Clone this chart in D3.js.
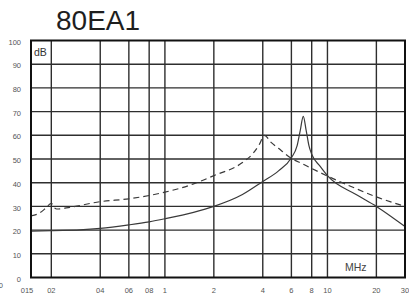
<!DOCTYPE html>
<html>
<head>
<meta charset="utf-8">
<script src="https://cdn.jsdelivr.net/npm/d3@7"></script>
<style>
  body { margin: 0; background: #fff; }
  svg { display: block; font-family: "Liberation Sans", Arial, sans-serif; }
</style>
</head>
<body>
<div id="chart"></div>
<script>
// frequency (MHz) and attenuation (dB)
var solidFreq = [0.15, 0.2, 0.3, 0.4, 0.6, 0.8, 1, 1.5, 2, 3, 4, 5, 6, 6.5, 6.8, 7.1, 7.4, 7.7, 8, 9, 10, 15, 20, 30];
var solidDb   = [19.5, 19.8, 20.1, 20.7, 22.2, 23.5, 24.8, 27.5, 30, 35, 40.5, 45, 50.5, 55.5, 62, 68, 62, 55.5, 52, 47, 43, 35, 30, 21.5];

var dashFreq = [0.15, 0.17, 0.185, 0.2, 0.208, 0.216, 0.26, 0.4, 0.6, 0.8, 1, 1.5, 2, 3, 3.5, 3.8, 4.1, 4.5, 5, 6, 7, 8, 10, 15, 20, 30];
var dashDb   = [26, 27.3, 29.3, 31.3, 29.6, 28.9, 29.6, 32, 33.2, 34.6, 36, 39.5, 43, 48.5, 52.5, 56, 60, 57, 54.5, 50.3, 48, 46, 42.8, 37.5, 34, 30];

var xTicks = [0.15, 0.2, 0.4, 0.6, 0.8, 1, 2, 4, 6, 8, 10, 20, 30];
var xTickLabels = ["015", "02", "04", "06", "08", "1", "2", "4", "6", "8", "10", "20", "30"];
var xGrid = [0.2, 0.4, 0.6, 0.8, 1, 2, 4, 6, 8, 10, 20];
var yTicks = [0, 10, 20, 30, 40, 50, 60, 70, 80, 90, 100];

var width = 409,
    height = 297,
    margin = {top: 40.5, right: 4, bottom: 19.5, left: 31};

var svg = d3.select("#chart")
  .append("svg")
  .attr("width", width)
  .attr("height", height);

var x = d3.scaleLog()
  .domain([0.15, 30])
  .range([margin.left, width - margin.right]);

var y = d3.scaleLinear()
  .domain([0, 100])
  .range([height - margin.bottom, margin.top]);

// title
svg.append("text")
  .attr("x", 56)
  .attr("y", 30)
  .attr("font-size", 28)
  .attr("fill", "#1e1e1e")
  .text("80EA1");

// grid
var grid = svg.append("g").attr("class", "grid")
  .attr("stroke", "#2e2e2e")
  .attr("stroke-width", 1.4);

grid.selectAll(".vline")
  .data(xGrid)
  .enter().append("line")
  .attr("class", "vline")
  .attr("x1", function(d) { return x(d); })
  .attr("x2", function(d) { return x(d); })
  .attr("y1", y(0))
  .attr("y2", y(100));

grid.selectAll(".hline")
  .data(yTicks.slice(1, -1))
  .enter().append("line")
  .attr("class", "hline")
  .attr("x1", x(0.15))
  .attr("x2", x(30))
  .attr("y1", function(d) { return y(d); })
  .attr("y2", function(d) { return y(d); });

// curves
var line = d3.line()
  .x(function(d) { return x(d[0]); })
  .y(function(d) { return y(d[1]); })
  .curve(d3.curveMonotoneX);

svg.append("path")
  .datum(dashFreq.map(function(f, i) { return [f, dashDb[i]]; }))
  .attr("d", line)
  .attr("fill", "none")
  .attr("stroke", "#3a3a3a")
  .attr("stroke-width", 1.2)
  .attr("stroke-dasharray", "6,4");

svg.append("path")
  .datum(solidFreq.map(function(f, i) { return [f, solidDb[i]]; }))
  .attr("d", line)
  .attr("fill", "none")
  .attr("stroke", "#3a3a3a")
  .attr("stroke-width", 1.2);

// frame
svg.append("rect")
  .attr("x", x(0.15))
  .attr("y", y(100))
  .attr("width", x(30) - x(0.15))
  .attr("height", y(0) - y(100))
  .attr("fill", "none")
  .attr("stroke", "#111")
  .attr("stroke-width", 2);

// y tick labels
svg.selectAll(".ylab")
  .data(yTicks)
  .enter().append("text")
  .attr("class", "ylab")
  .attr("x", 21)
  .attr("y", function(d) { return y(d) + 1.5; })
  .attr("dy", "0.35em")
  .attr("text-anchor", "end")
  .attr("font-size", 7.5)
  .attr("fill", "#555")
  .text(function(d) { return d; });

// x tick labels
svg.selectAll(".xlab")
  .data(xTicks)
  .enter().append("text")
  .attr("class", "xlab")
  .attr("x", function(d) { return x(d) - (d === 0.15 ? 4 : 0); })
  .attr("y", 290)
  .attr("dy", "0.35em")
  .attr("text-anchor", "middle")
  .attr("font-size", 7.5)
  .attr("fill", "#555")
  .text(function(d, i) { return xTickLabels[i]; });

// stray cut-off label at the far left
svg.append("text")
  .attr("x", 3)
  .attr("y", 285)
  .attr("dy", "0.35em")
  .attr("text-anchor", "end")
  .attr("font-size", 7.5)
  .attr("fill", "#555")
  .text("0");

// units
svg.append("text")
  .attr("x", 34)
  .attr("y", 56)
  .attr("font-size", 10.5)
  .attr("fill", "#333")
  .text("dB");

svg.append("text")
  .attr("x", 345)
  .attr("y", 271)
  .attr("font-size", 10.5)
  .attr("fill", "#444")
  .text("MHz");
</script>
</body>
</html>
